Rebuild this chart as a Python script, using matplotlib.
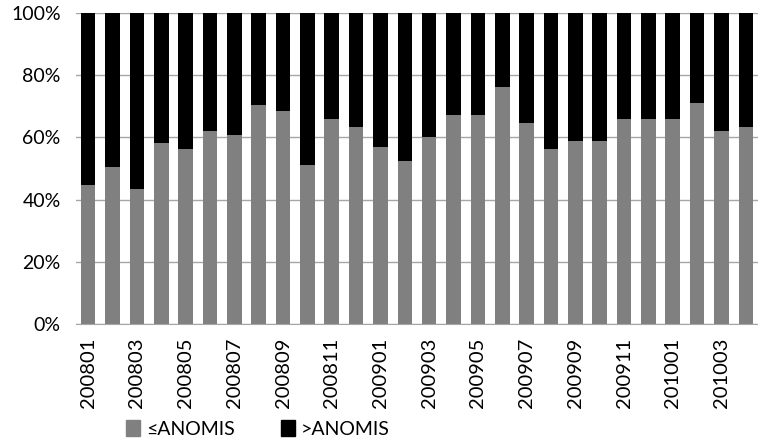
import matplotlib
matplotlib.use('Agg')
import matplotlib.pyplot as plt
import matplotlib.patches as patches
from matplotlib.ticker import PercentFormatter

plt.rcParams['font.family'] = ['Lato', 'DejaVu Sans']

# months 200801 .. 201004
months = ['200801', '200802', '200803', '200804', '200805', '200806', '200807',
          '200808', '200809', '200810', '200811', '200812', '200901', '200902',
          '200903', '200904', '200905', '200906', '200907', '200908', '200909',
          '200910', '200911', '200912', '201001', '201002', '201003', '201004']

# share at or below ANOMIS (percent)
below = [44.7, 50.5, 43.4, 58.2, 56.3, 62.1, 60.8, 70.4, 68.5, 51.1, 65.9, 63.3,
         56.9, 52.4, 60.1, 67.2, 67.2, 76.2, 64.6, 56.3, 58.8, 58.8, 65.9, 65.9,
         65.9, 71.1, 62.1, 63.3]
above = [100 - v for v in below]

fig = plt.figure(figsize=(7.58, 4.43), dpi=100)
ax = fig.add_axes([76 / 758, 1 - 324 / 443, 682 / 758, 311 / 443])

x = list(range(len(months)))
ax.bar(x, below, width=0.6, color='#808080', zorder=2)
ax.bar(x, above, bottom=below, width=0.6, color='#000000', zorder=2)

ax.set_xlim(-0.5, len(months) - 0.5)
ax.set_ylim(0, 100)
ax.set_yticks(range(0, 101, 20))
ax.yaxis.set_major_formatter(PercentFormatter(decimals=0))
ax.grid(axis='y', color='#a6a6a6', linewidth=1, zorder=0)

ax.set_xticks(x[::2])
ax.set_xticklabels(months[::2], rotation=90)

for s in ['top', 'right', 'left']:
    ax.spines[s].set_visible(False)
ax.spines['bottom'].set_color('#a6a6a6')
ax.tick_params(axis='x', length=0, labelsize=14.5, pad=10)
ax.tick_params(axis='y', length=0, labelsize=14, pad=11)

handles = [patches.Patch(color='#808080', label='≤ANOMIS'),
           patches.Patch(color='#000000', label='>ANOMIS')]
fig.legend(handles=handles, ncol=2, loc='center', bbox_to_anchor=(258 / 758, 1 - 429 / 443),
           frameon=False, fontsize=14, handlelength=0.7, handleheight=0.9,
           handletextpad=0.3, columnspacing=2.4)

fig.savefig('out.png', dpi=100)
